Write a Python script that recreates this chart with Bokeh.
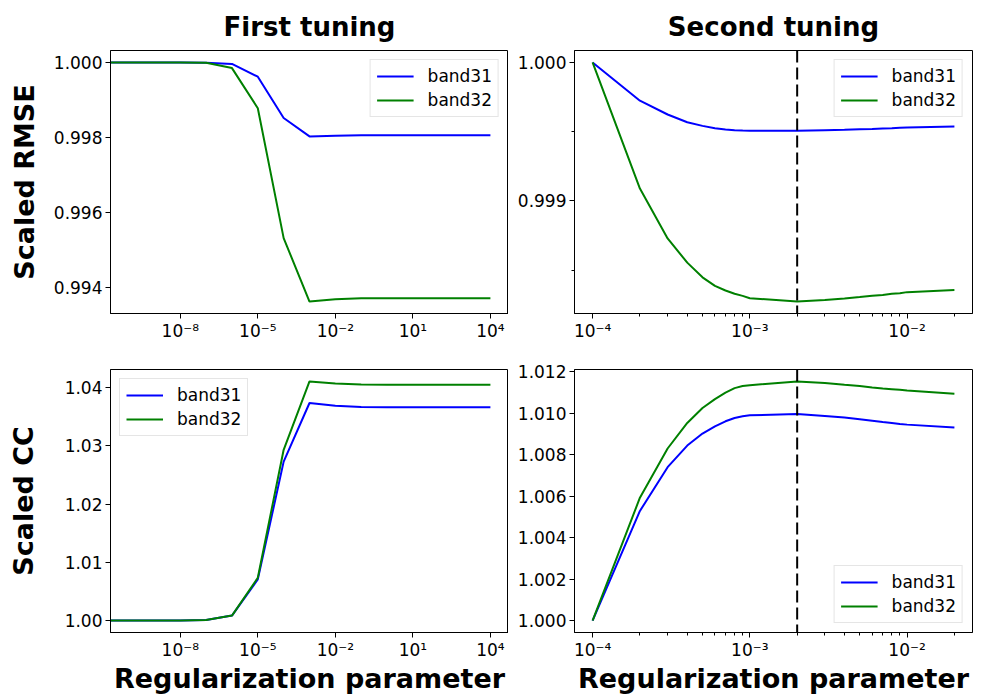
import math
from bokeh.plotting import figure
from bokeh.layouts import gridplot
from bokeh.models import Range1d, FixedTicker, PrintfTickFormatter, CustomJSTickFormatter, Span
from bokeh.embed import file_html
from bokeh.resources import INLINE

# ---------------- data ----------------
reg_first = [0.0, 1e-10, 1e-9, 1e-8, 1e-7, 1e-6, 1e-5, 1e-4, 1e-3, 1e-2, 1e-1, 1e0, 1e1, 1e2, 1e3, 1e4]
rmse_first_b31 = [1.0, 1.0, 1.0, 1.0, 0.99999, 0.99996, 0.99962, 0.99852, 0.99803, 0.99805, 0.99806,
                  0.99806, 0.99806, 0.99806, 0.99806, 0.99806]
rmse_first_b32 = [1.0, 1.0, 1.0, 1.0, 0.99999, 0.99985, 0.99878, 0.99532, 0.99363, 0.99369, 0.99372,
                  0.99372, 0.99372, 0.99372, 0.99372, 0.99372]
cc_first_b31 = [1.0, 1.0, 1.0, 1.0, 1.0001, 1.00085, 1.00707, 1.0273, 1.03738, 1.03692, 1.0367,
                1.03664, 1.03664, 1.03664, 1.03664, 1.03664]
cc_first_b32 = [1.0, 1.0, 1.0, 1.0, 1.00011, 1.00085, 1.00735, 1.02934, 1.04108, 1.04074, 1.04057,
                1.04051, 1.04051, 1.04051, 1.04051, 1.04051]

reg_second = [1e-4, 2e-4, 3e-4, 4e-4, 5e-4, 6e-4, 7e-4, 8e-4, 9e-4,
              1e-3, 2e-3, 3e-3, 4e-3, 5e-3, 6e-3, 7e-3, 8e-3, 9e-3,
              1e-2, 2e-2]
rmse_second_b31 = [1.0, 0.999724, 0.999624, 0.999568, 0.999542, 0.999525, 0.999516, 0.999511, 0.999508,
                   0.999506, 0.999506, 0.999511, 0.999514, 0.999518, 0.999520, 0.999523, 0.999525, 0.999528,
                   0.999530, 0.999537]
rmse_second_b32 = [1.0, 0.999089, 0.998729, 0.998554, 0.998448, 0.998386, 0.998353, 0.998329, 0.998314,
                   0.998297, 0.998273, 0.998285, 0.998295, 0.998305, 0.998314, 0.998321, 0.998329, 0.998333,
                   0.998341, 0.998357]
cc_second_b31 = [1.0, 1.00528, 1.00739, 1.00843, 1.00901, 1.00936, 1.00960, 1.00976, 1.00984,
                 1.00989, 1.00995, 1.00986, 1.00978, 1.00970, 1.00963, 1.00957, 1.00952, 1.00947,
                 1.00944, 1.00930]
cc_second_b32 = [1.0, 1.00592, 1.00829, 1.00952, 1.01024, 1.01067, 1.01098, 1.01120, 1.01130,
                 1.01134, 1.01152, 1.01144, 1.01136, 1.01130, 1.01123, 1.01118, 1.01115, 1.01112,
                 1.01109, 1.01093]
chosen_param = 2e-3

series_names = ["band31", "band32"]
colors = ["#0000ff", "#008000"]

xticks_first = [1e-8, 1e-5, 1e-2, 1e1, 1e4]
xticks_second = [1e-4, 1e-3, 1e-2]
xminor_second = [2e-4, 3e-4, 4e-4, 5e-4, 6e-4, 7e-4, 8e-4, 9e-4,
                 2e-3, 3e-3, 4e-3, 5e-3, 6e-3, 7e-3, 8e-3, 9e-3,
                 2e-2, 3e-2]
yticks_rmse_first = [0.994, 0.996, 0.998, 1.000]
yticks_rmse_second = [0.999, 1.000]
yminor_rmse_second = [0.9985, 0.9995]
yticks_cc_first = [1.00, 1.01, 1.02, 1.03, 1.04]
yticks_cc_second = [1.000, 1.002, 1.004, 1.006, 1.008, 1.010, 1.012]

FONT = "DejaVu Sans"

SUP_JS = """
const sup = {'-':'\u207b','0':'\u2070','1':'\u00b9','2':'\u00b2','3':'\u00b3','4':'\u2074',
             '5':'\u2075','6':'\u2076','7':'\u2077','8':'\u2078','9':'\u2079'};
const e = Math.round(Math.log10(tick));
return '10' + String(e).split('').map(c => sup[c]).join('');
"""


def lin_range(*arrs):
    vals = [v for a in arrs for v in a]
    lo, hi = min(vals), max(vals)
    m = 0.05 * (hi - lo)
    return Range1d(lo - m, hi + m)


def log_range(xs):
    pos = [x for x in xs if x > 0]
    lo, hi = math.log10(min(pos)), math.log10(max(pos))
    m = 0.05 * (hi - lo)
    return Range1d(10 ** (lo - m), 10 ** (hi + m))


def make_fig(xs, ys_list, xticks, xminor, yticks, yminor, yfmt, legend_loc,
             title=None, ylabel=None, xlabel=None, ylabel_standoff=12,
             borders=(0, 0, 0, 0), vline=None):
    top, right, bottom, left = borders
    p = figure(x_axis_type="log", x_range=log_range(xs), y_range=lin_range(*ys_list),
               frame_width=398, frame_height=263,
               min_border_top=top, min_border_right=right, min_border_bottom=bottom,
               min_border_left=left, output_backend="svg", toolbar_location=None,
               background_fill_color="white", border_fill_color="white")
    xs_plot = [x if x > 0 else 1e-30 for x in xs]
    for ys, name, c in zip(ys_list, series_names, colors):
        p.line(xs_plot, ys, line_color=c, line_width=2, legend_label=name)
    if vline is not None:
        p.add_layout(Span(location=vline, dimension="height", line_color="black",
                          line_width=2, line_dash="12 5"))
    p.xgrid.visible = False
    p.ygrid.visible = False
    p.outline_line_color = "black"
    p.outline_line_width = 1
    p.xaxis.ticker = FixedTicker(ticks=xticks, minor_ticks=xminor)
    p.xaxis.formatter = CustomJSTickFormatter(code=SUP_JS)
    p.yaxis.ticker = FixedTicker(ticks=yticks, minor_ticks=yminor)
    p.yaxis.formatter = PrintfTickFormatter(format=yfmt)
    for ax in (p.xaxis[0], p.yaxis[0]):
        ax.axis_line_color = "black"
        ax.major_tick_line_color = "black"
        ax.minor_tick_line_color = "black"
        ax.major_tick_in = 0
        ax.major_tick_out = 5
        ax.minor_tick_in = 0
        ax.minor_tick_out = 3
        ax.major_label_text_font = FONT
        ax.major_label_text_font_size = "17px"
        ax.major_label_text_color = "black"
        ax.major_label_standoff = 3
    p.xaxis.major_label_standoff = 2
    if title:
        p.title.text = title
        p.title.text_font = FONT
        p.title.text_font_size = "26px"
        p.title.text_font_style = "bold"
        p.title.align = "center"
        p.title.text_color = "black"
        p.title.standoff = 18
    if ylabel:
        p.yaxis.axis_label = ylabel
        p.yaxis.axis_label_text_font = FONT
        p.yaxis.axis_label_text_font_size = "27px"
        p.yaxis.axis_label_text_font_style = "bold"
        p.yaxis.axis_label_text_color = "black"
        p.yaxis.axis_label_standoff = ylabel_standoff
    if xlabel:
        p.xaxis.axis_label = xlabel
        p.xaxis.axis_label_text_font = FONT
        p.xaxis.axis_label_text_font_size = "27px"
        p.xaxis.axis_label_text_font_style = "bold"
        p.xaxis.axis_label_text_color = "black"
        p.xaxis.axis_label_standoff = 0
    lg = p.legend[0]
    lg.location = legend_loc
    lg.margin = 9
    lg.padding = 6
    lg.spacing = 4
    lg.glyph_width = 37
    lg.glyph_height = 20
    lg.label_height = 20
    lg.label_standoff = 14
    lg.label_text_font = FONT
    lg.label_text_font_size = "17px"
    lg.label_text_color = "black"
    lg.border_line_color = "#cccccc"
    lg.border_line_width = 1
    lg.background_fill_alpha = 0.8
    return p


p1 = make_fig(reg_first, [rmse_first_b31, rmse_first_b32], xticks_first, [], yticks_rmse_first, [],
              "%.3f", "top_right", title="First tuning", ylabel="Scaled RMSE", ylabel_standoff=11,
              borders=(50, 0, 48, 110))
p2 = make_fig(reg_second, [rmse_second_b31, rmse_second_b32], xticks_second, xminor_second,
              yticks_rmse_second, yminor_rmse_second, "%.3f", "top_right", title="Second tuning",
              borders=(50, 16, 48, 66), vline=chosen_param)
p3 = make_fig(reg_first, [cc_first_b31, cc_first_b32], xticks_first, [], yticks_cc_first, [],
              "%.2f", "top_left", ylabel="Scaled CC", ylabel_standoff=23,
              xlabel="Regularization parameter", borders=(8, 0, 40, 110))
p4 = make_fig(reg_second, [cc_second_b31, cc_second_b32], xticks_second, xminor_second,
              yticks_cc_second, [], "%.3f", "bottom_right", xlabel="Regularization parameter",
              borders=(8, 16, 40, 66), vline=chosen_param)

grid = gridplot([[p1, p2], [p3, p4]], toolbar_location=None)

open("out.html", "w").write(file_html(grid, INLINE))
